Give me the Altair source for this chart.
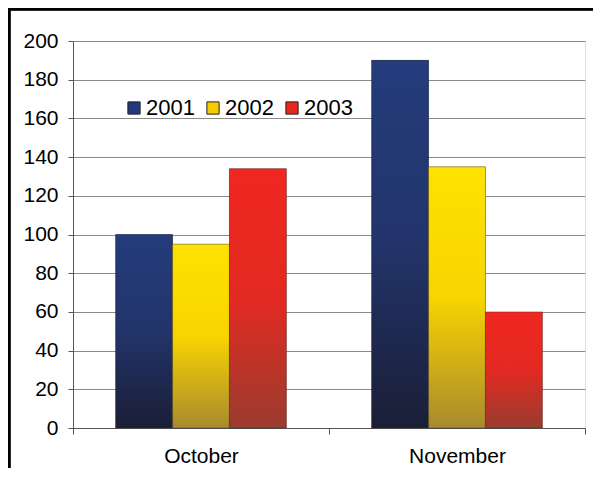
import altair as alt
import pandas as pd

months = ["October", "November"]
years = ["2001", "2002", "2003"]
values_2001 = [100, 190]
values_2002 = [95, 135]
values_2003 = [134, 60]
y_ticks = [0, 20, 40, 60, 80, 100, 120, 140, 160, 180, 200]

solid_colors = ["#22397a", "#f5cc00", "#e8261f"]
gradients = {
    "2001": [("#243c7c", 0.0), ("#22346a", 0.5), ("#1b1e36", 1.0)],
    "2002": [("#ffe200", 0.0), ("#f8d400", 0.5), ("#a88a2e", 1.0)],
    "2003": [("#f02720", 0.0), ("#e22a22", 0.5), ("#9a3c2e", 1.0)],
}

rows = []
for yr, vals in zip(years, [values_2001, values_2002, values_2003]):
    for m, v in zip(months, vals):
        rows.append({"month": m, "year": yr, "value": v})
df = pd.DataFrame(rows)

FONT = "Liberation Sans"

x_enc = alt.X(
    "month:N",
    sort=months,
    title=None,
    scale=alt.Scale(paddingInner=0, paddingOuter=0),
    axis=alt.Axis(
        labelAngle=0,
        labelFontSize=21,
        labelFont=FONT,
        labelColor="black",
        labelPadding=11,
        tickBand="extent",
        tickSize=6,
        tickColor="#555555",
        domainColor="#555555",
        grid=False,
    ),
)
y_enc = alt.Y(
    "value:Q",
    title=None,
    scale=alt.Scale(domain=[0, 200], nice=False),
    axis=alt.Axis(
        values=y_ticks,
        labelFontSize=21,
        labelFont=FONT,
        labelColor="black",
        labelPadding=10,
        tickSize=5,
        tickColor="#555555",
        domainColor="#555555",
        gridColor="#8a8a8a",
        gridWidth=1,
        gridOpacity=1,
    ),
)
xoff = alt.XOffset("year:N", sort=years, scale=alt.Scale(paddingInner=0, paddingOuter=0.75))

base = alt.Chart(df)

legend_layer = base.mark_bar().encode(
    x=x_enc,
    y=y_enc,
    xOffset=xoff,
    color=alt.Color(
        "year:N",
        sort=years,
        scale=alt.Scale(domain=years, range=solid_colors),
        legend=alt.Legend(
            title=None,
            orient="none",
            legendX=50,
            legendY=56,
            direction="horizontal",
            symbolType="square",
            symbolSize=150,
            symbolStrokeColor="#222222",
            symbolStrokeWidth=1,
            symbolOpacity=1,
            labelFont=FONT,
            labelFontSize=22,
            labelColor="black",
            labelOffset=1,
            columnPadding=7,
            padding=0,
        ),
    ),
)

grad_layers = []
for yr in years:
    grad = {
        "gradient": "linear",
        "x1": 0, "y1": 0, "x2": 0, "y2": 1,
        "stops": [{"offset": o, "color": c} for c, o in gradients[yr]],
    }
    grad_layers.append(
        base.transform_filter(alt.datum.year == yr)
        .mark_bar(fill=grad, stroke="#2a2a2a", strokeWidth=0.6, strokeOpacity=0.7)
        .encode(x=x_enc, y=y_enc, xOffset=xoff)
    )

frame_left = base.mark_rule(color="black", strokeWidth=2.5).encode(
    x=alt.value(-64), y=alt.value(-32), y2=alt.value(440)
)
frame_top = base.mark_rule(color="black", strokeWidth=2.5).encode(
    x=alt.value(-65), x2=alt.value(530), y=alt.value(-32)
)

chart = (
    alt.layer(legend_layer, *grad_layers, frame_left, frame_top)
    .properties(
        width=512,
        height=387,
        autosize=alt.AutoSizeParams(type="none"),
        padding={"left": 65, "top": 33, "right": 8, "bottom": 40},
    )
    .configure_view(stroke="#8a8a8a", strokeWidth=1)
    .configure(background="white")
)

chart.save("out.html", embed_options={"renderer": "svg", "actions": False})
